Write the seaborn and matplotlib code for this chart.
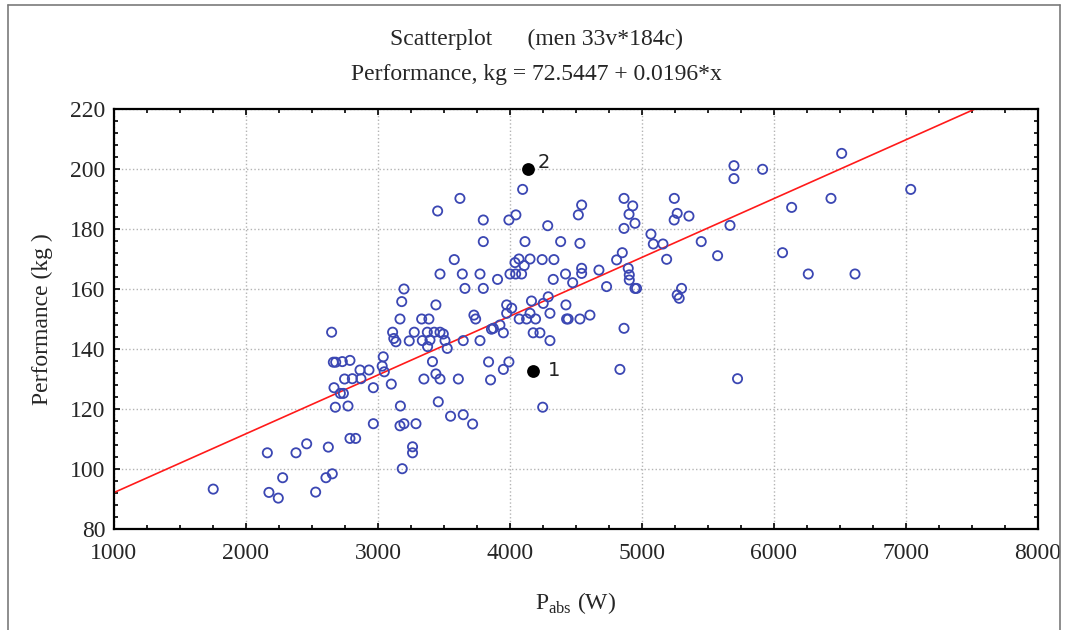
"""Scatterplot of performance vs absolute power (men 33v*184c)."""

import matplotlib

matplotlib.use("Agg")
import matplotlib.pyplot as plt
import numpy as np
import pandas as pd
import seaborn as sns
from matplotlib.lines import Line2D
from matplotlib.ticker import MultipleLocator

# values
PABS_W = [
    1752, 2162, 2174, 2245, 2278, 2379, 2460, 2528, 2624, 2606, 2654, 2649,
    2662, 2680, 2730, 2788, 2667, 2715, 2738, 2747, 2806, 2871, 2677, 2773,
    2788, 2831, 2864, 2932, 2965, 2965, 3040, 3032, 3048, 3101, 3111, 3120,
    3136, 3167, 3180, 3237, 3275, 3170, 3167, 3197, 3288, 3262, 3262, 3184,
    3197, 3439, 3331, 3386, 3727, 3740, 3975, 3975, 4013, 4070, 4126, 4194,
    4152, 4303, 4429, 3336, 3374, 3426, 3470, 3495, 3376, 3394, 3508, 3525,
    3646, 3773, 3874, 3950, 4176, 4227, 4303, 3413, 3348, 3439, 3470, 3609,
    3838, 3853, 3950, 3992, 3457, 3550, 3646, 3717, 4248, 3924, 3860, 4096,
    3621, 3452, 3798, 3992, 4045, 4286, 3798, 4114, 4384, 3578, 4038, 4068,
    4108, 4152, 4244, 4333, 3470, 3639, 3773, 3906, 4000, 4043, 4088, 4421,
    4328, 3659, 3798, 4163, 4290, 4424, 4543, 4518, 4530, 4475, 4543, 4543,
    4674, 4732, 4808, 4441, 4530, 4606, 5697, 5697, 5914, 5245, 4864, 4930,
    4902, 4947, 4864, 5267, 5244, 5356, 6134, 5068, 5086, 5159, 5449, 5667,
    6065, 5573, 5187, 4851, 4896, 4904, 4904, 4947, 4959, 5300, 5267, 5282,
    4252, 4864, 4833, 5724, 6513, 7036, 6432, 6260, 6614,
]
PERF_KG = [
    93.3, 105.4, 92.2, 90.3, 97.1, 105.4, 108.4, 92.3, 107.3, 97.1, 98.4, 145.6,
    135.6, 135.6, 135.8, 136.2, 127.1, 125.2, 125.2, 130.0, 130.1, 130.1, 120.6, 121.0,
    110.2, 110.2, 133.0, 133.0, 127.1, 115.1, 137.4, 134.3, 132.4, 128.3, 145.6, 143.5,
    142.4, 150.0, 155.8, 142.7, 145.6, 121.0, 114.4, 115.1, 115.1, 107.4, 105.4, 100.1,
    160.0, 154.7, 150.0, 150.0, 151.3, 150.0, 154.7, 151.9, 153.6, 150.0, 150.0, 150.0,
    151.9, 151.9, 150.0, 142.8, 145.6, 145.6, 145.6, 145.0, 140.8, 143.0, 142.8, 140.2,
    142.8, 142.8, 146.9, 145.4, 145.4, 145.4, 142.8, 135.8, 130.0, 131.7, 130.0, 130.0,
    135.7, 129.7, 133.2, 135.7, 122.4, 117.6, 118.1, 115.0, 120.6, 148.0, 146.6, 193.2,
    190.2, 186.0, 183.0, 183.0, 184.7, 181.1, 175.8, 175.8, 175.8, 169.8, 168.8, 170.0,
    167.8, 170.0, 169.8, 169.8, 165.0, 165.0, 165.0, 163.2, 165.0, 165.0, 165.0, 165.0,
    163.2, 160.2, 160.2, 156.0, 157.4, 154.7, 188.0, 184.7, 175.2, 162.1, 166.9, 165.2,
    166.3, 160.8, 169.7, 150.0, 150.0, 151.3, 201.1, 196.8, 199.9, 190.2, 190.2, 187.7,
    184.9, 181.9, 180.2, 185.2, 183.0, 184.3, 187.2, 178.3, 175.0, 175.0, 175.8, 181.2,
    172.1, 171.1, 169.9, 172.1, 166.9, 164.7, 163.0, 160.2, 160.2, 160.2, 158.0, 156.9,
    155.2, 146.9, 133.2, 130.1, 205.2, 193.2, 190.2, 165.0, 165.0,
]

# the two highlighted cases
MARKED_LABELS = ["1", "2"]
MARKED_PABS = [4174, 4136]
MARKED_PERF = [132.8, 200.0]
LABEL_OFFSETS = {"1": (11, 0), "2": (7, 5)}

# fitted line from the title
INTERCEPT = 72.5447
SLOPE = 0.0196
X_RANGE = [1000, 8000]

sns.set_theme(style="white")
plt.rcParams["font.family"] = ["Liberation Serif", "DejaVu Serif"]
plt.rcParams["mathtext.fontset"] = "custom"
plt.rcParams["mathtext.rm"] = "Liberation Serif"

points = pd.DataFrame({"pabs": PABS_W, "perf": PERF_KG})
marked = pd.DataFrame({"pabs": MARKED_PABS, "perf": MARKED_PERF, "label": MARKED_LABELS})
fit_x = np.array(X_RANGE, dtype=float)
fit = pd.DataFrame({"pabs": fit_x, "perf": INTERCEPT + SLOPE * fit_x})

fig = plt.figure(figsize=(10.66, 6.30), dpi=100)
ax = fig.add_axes([0.1069, 0.1603, 0.8668, 0.6667])

sns.scatterplot(
    data=points, x="pabs", y="perf", ax=ax, marker="o", s=44,
    facecolors="none", edgecolor="#3b47b3", linewidth=1.3, zorder=3,
)
sns.lineplot(data=fit, x="pabs", y="perf", ax=ax, color="#ff1a1a", linewidth=1.2, zorder=2)
sns.scatterplot(
    data=marked, x="pabs", y="perf", ax=ax, color="black", s=85,
    edgecolor="black", linewidth=0, zorder=4,
)
for _, row in marked.iterrows():
    ax.annotate(
        row["label"], (row["pabs"], row["perf"]), xytext=LABEL_OFFSETS[row["label"]],
        textcoords="offset points", fontsize=14, family=["DejaVu Sans"],
        color="#222222", va="center",
    )

ax.set_xlim(1000, 8000)
ax.set_ylim(80, 220)
ax.xaxis.set_major_locator(MultipleLocator(1000))
ax.xaxis.set_minor_locator(MultipleLocator(250))
ax.yaxis.set_major_locator(MultipleLocator(20))
ax.yaxis.set_minor_locator(MultipleLocator(4))
ax.tick_params(
    which="both", direction="in", top=True, right=True, bottom=True, left=True,
    color="black", width=1.2, labelsize=17,
)
ax.tick_params(which="major", length=4)
ax.tick_params(which="minor", length=3)
ax.tick_params(axis="x", which="major", pad=10)
ax.tick_params(axis="y", which="major", pad=6)
ax.grid(True, which="major", linestyle=":", color="#b4b4b4", linewidth=1.0)
for spine in ax.spines.values():
    spine.set_color("black")
    spine.set_linewidth(1.6)

ax.set_xlabel(r"P$_{\mathrm{abs}}$ (W)", fontsize=17, labelpad=19)
ax.set_ylabel("Performance (kg )", fontsize=17, labelpad=12)
fig.text(0.503, 0.938, "Scatterplot      (men 33v*184c)", ha="center", va="center", fontsize=17)
fig.text(0.503, 0.881, "Performance, kg = 72.5447 + 0.0196*x", ha="center", va="center", fontsize=17)

# thin frame around the figure, as in the exported screenshot
frame = dict(color="#7a7a7a", linewidth=1.2, transform=fig.transFigure)
fig.add_artist(Line2D([0.0075, 0.994], [0.992, 0.992], **frame))
fig.add_artist(Line2D([0.0075, 0.0075], [0.0, 0.992], **frame))
fig.add_artist(Line2D([0.994, 0.994], [0.0, 0.992], **frame))

fig.savefig("out.png", dpi=100)
